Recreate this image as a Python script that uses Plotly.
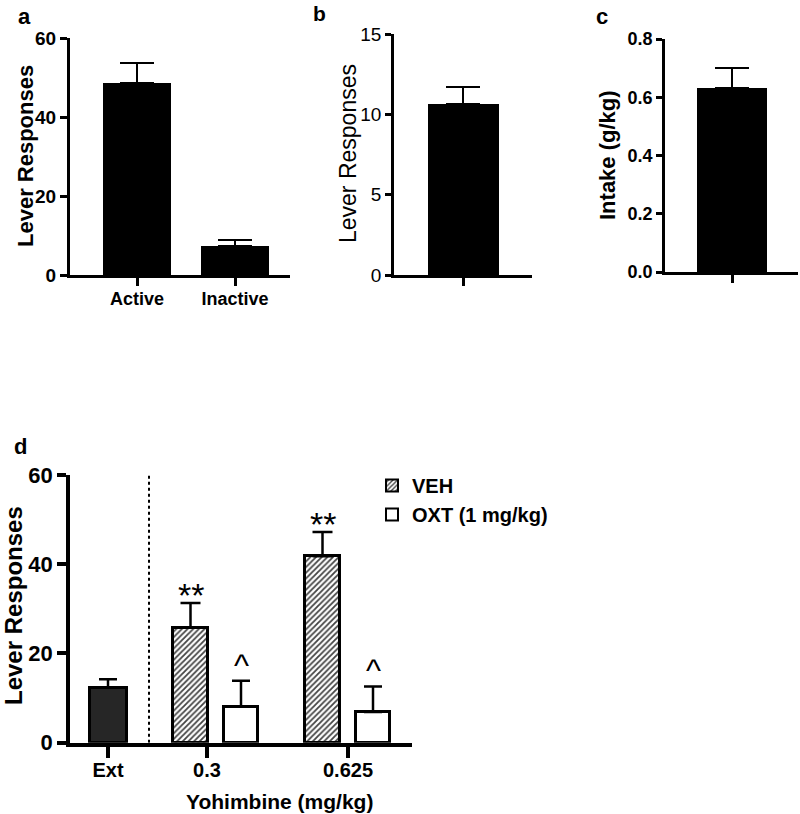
import plotly.graph_objects as go

# ---------------- data ----------------
a_categories = ["Active", "Inactive"]
a_values = [48.5, 7.3]
a_errors = [5.2, 1.6]

b_values = [10.65]
b_errors = [1.05]

c_values = [0.632]
c_errors = [0.068]

d_ext_label = ["Ext"]
d_ext_value = [12.3]
d_ext_error = [1.9]

d_doses = ["0.3", "0.625"]
d_veh_values = [25.8, 41.8]
d_veh_errors = [5.5, 5.4]
d_oxt_values = [8.1, 6.9]
d_oxt_errors = [5.8, 5.7]
d_veh_marks = ["**", "**"]
d_oxt_marks = ["^", "^"]

# ---------------- layout helpers ----------------
W, H = 800, 814
def px(x):
    return x / W
def py(y):
    return 1 - y / H

FONT = "Liberation Sans, Arial, sans-serif"

fig = go.Figure()

# Panel a
fig.add_trace(go.Bar(
    x=[0, 1], y=a_values, width=0.70, marker=dict(color="black", line=dict(width=0)),
    error_y=dict(type="data", array=a_errors, arrayminus=[0, 0], symmetric=False,
                 color="black", thickness=2.5, width=17),
    xaxis="x", yaxis="y", showlegend=False))

# Panel b
fig.add_trace(go.Bar(
    x=[0], y=b_values, width=0.71, marker=dict(color="black", line=dict(width=0)),
    error_y=dict(type="data", array=b_errors, arrayminus=[0], symmetric=False,
                 color="black", thickness=2.5, width=17),
    xaxis="x2", yaxis="y2", showlegend=False))

# Panel c
fig.add_trace(go.Bar(
    x=[0], y=c_values, width=0.70, marker=dict(color="black", line=dict(width=0)),
    error_y=dict(type="data", array=c_errors, arrayminus=[0], symmetric=False,
                 color="black", thickness=2.5, width=17),
    xaxis="x3", yaxis="y3", showlegend=False))

# Panel d positions (layout, in axis units: 1 unit = 100 px)
ext_pos = [0.38]
group_pos = [1.4575, 2.7775]
tick_pos = [0.38, 1.37, 2.78]
offset = 0.2525

fig.add_trace(go.Bar(
    x=ext_pos, y=d_ext_value, width=0.37,
    marker=dict(color="#262626", line=dict(color="black", width=3)),
    error_y=dict(type="data", array=d_ext_error, arrayminus=[0], symmetric=False,
                 color="black", thickness=2.5, width=9),
    xaxis="x4", yaxis="y4", showlegend=False))

fig.add_trace(go.Bar(
    x=[g - offset for g in group_pos], y=d_veh_values, width=0.35, name="<b>VEH</b>",
    marker=dict(color="white", line=dict(color="black", width=3),
                pattern=dict(shape="/", fgcolor="#444444", bgcolor="white", size=4, solidity=0.45)),
    error_y=dict(type="data", array=d_veh_errors, arrayminus=[0, 0], symmetric=False,
                 color="black", thickness=2.5, width=10),
    xaxis="x4", yaxis="y4", showlegend=True))

fig.add_trace(go.Bar(
    x=[g + offset for g in group_pos], y=d_oxt_values, width=0.34, name="<b>OXT (1 mg/kg)</b>",
    marker=dict(color="white", line=dict(color="black", width=3)),
    error_y=dict(type="data", array=d_oxt_errors, arrayminus=[0, 0], symmetric=False,
                 color="black", thickness=2.5, width=9),
    xaxis="x4", yaxis="y4", showlegend=True))

# significance marks
ann = []
for g, v, e, m in zip(group_pos, d_veh_values, d_veh_errors, d_veh_marks):
    ann.append(dict(x=g - offset, y=v + e, xref="x4", yref="y4", text=m, showarrow=False,
                    yanchor="bottom", yshift=-13, font=dict(family=FONT, size=34, color="black")))
for g, v, e, m in zip(group_pos, d_oxt_values, d_oxt_errors, d_oxt_marks):
    ann.append(dict(x=g + offset, y=v + e, xref="x4", yref="y4", text=m, showarrow=False,
                    yanchor="bottom", yshift=-4, font=dict(family=FONT, size=32, color="black")))

# panel labels and axis titles
def lab(text, x, y, size, bold=True, angle=0):
    t = f"<b>{text}</b>" if bold else text
    return dict(x=px(x), y=py(y), xref="paper", yref="paper", text=t, showarrow=False,
                xanchor="center", yanchor="middle", textangle=angle,
                font=dict(family=FONT, size=size, color="black"))

ann += [
    lab("a", 24, 16, 22),
    lab("b", 319, 14, 21),
    lab("c", 602, 16, 22),
    lab("d", 20, 447, 22),
    lab("Lever Responses", 25, 156, 22, True, -90),
    lab("Lever Responses", 348, 154, 23, False, -90),
    lab("Intake (g/kg)", 607, 155, 22, True, -90),
    lab("Lever Responses", 13, 606, 24, True, -90),
    lab("Yohimbine (mg/kg)", 279, 801, 21, True),
]

axis_common = dict(showgrid=False, zeroline=False, showline=True, linecolor="black",
                   ticks="outside", tickcolor="black", automargin=False)

fig.update_layout(
    template="none",
    width=W, height=H, margin=dict(l=0, r=0, t=0, b=0, pad=0, autoexpand=False),
    paper_bgcolor="white", plot_bgcolor="white",
    bargap=0, barmode="overlay",
    font=dict(family=FONT, color="black"),
    annotations=ann,
    xaxis=dict(**axis_common, domain=[px(70), px(290)], range=[-0.684, 1.561],
               tickvals=[0, 1], ticktext=[f"<b>{c}</b>" for c in a_categories],
               linewidth=3, tickwidth=3, ticklen=8, anchor="y", ticklabelstandoff=-3,
               tickfont=dict(size=18, family=FONT)),
    yaxis=dict(**axis_common, domain=[py(275), py(38)], range=[0, 60],
               tickvals=[0, 20, 40, 60], ticktext=["<b>0</b>", "<b>20</b>", "<b>40</b>", "<b>60</b>"],
               linewidth=3, tickwidth=3, ticklen=7, anchor="x",
               tickfont=dict(size=19, family=FONT)),
    xaxis2=dict(**axis_common, domain=[px(394), px(532)], range=[-0.69, 0.69],
                tickvals=[0], ticktext=[""], linewidth=2.5, tickwidth=2.5, ticklen=8, anchor="y2"),
    yaxis2=dict(**axis_common, domain=[py(275), py(34)], range=[0, 15],
                tickvals=[0, 5, 10, 15], linewidth=2.5, tickwidth=2.5, ticklen=6, anchor="x2",
                tickfont=dict(size=19, family=FONT)),
    xaxis3=dict(**axis_common, domain=[px(665), px(798)], range=[-0.67, 0.66],
                tickvals=[0], ticktext=[""], linewidth=2.5, tickwidth=2.5, ticklen=8, anchor="y3"),
    yaxis3=dict(**axis_common, domain=[py(272), py(39)], range=[0, 0.8],
                tickvals=[0, 0.2, 0.4, 0.6, 0.8],
                ticktext=["<b>0.0</b>", "<b>0.2</b>", "<b>0.4</b>", "<b>0.6</b>", "<b>0.8</b>"],
                linewidth=2.5, tickwidth=2.5, ticklen=6, anchor="x3",
                tickfont=dict(size=18, family=FONT)),
    xaxis4=dict(**axis_common, domain=[px(70), px(412)], range=[0, 3.42],
                tickvals=tick_pos, ticktext=[f"<b>{t}</b>" for t in d_ext_label + d_doses],
                linewidth=3.5, tickwidth=3.5, ticklen=12, anchor="y4", ticklabelstandoff=-5,
                tickfont=dict(size=20, family=FONT)),
    yaxis4=dict(**axis_common, domain=[py(742.7), py(475)], range=[0, 60],
                tickvals=[0, 20, 40, 60], ticktext=["<b>0</b>", "<b>20</b>", "<b>40</b>", "<b>60</b>"],
                linewidth=3.5, tickwidth=3.5, ticklen=9, anchor="x4",
                tickfont=dict(size=22, family=FONT)),
    legend=dict(x=px(372), y=py(466), xanchor="left", yanchor="top",
                font=dict(family=FONT, size=20, color="black"), bgcolor="rgba(0,0,0,0)",
                traceorder="normal", itemsizing="constant", borderwidth=0),
    shapes=[dict(type="line", xref="x4", yref="y4", x0=0.79, x1=0.79, y0=0, y1=60,
                 line=dict(color="black", width=2, dash="dot"))],
)

fig.write_html("out.html", config={"displayModeBar": False},
               post_script="document.body.style.margin='0px';document.body.style.overflow='hidden';")
